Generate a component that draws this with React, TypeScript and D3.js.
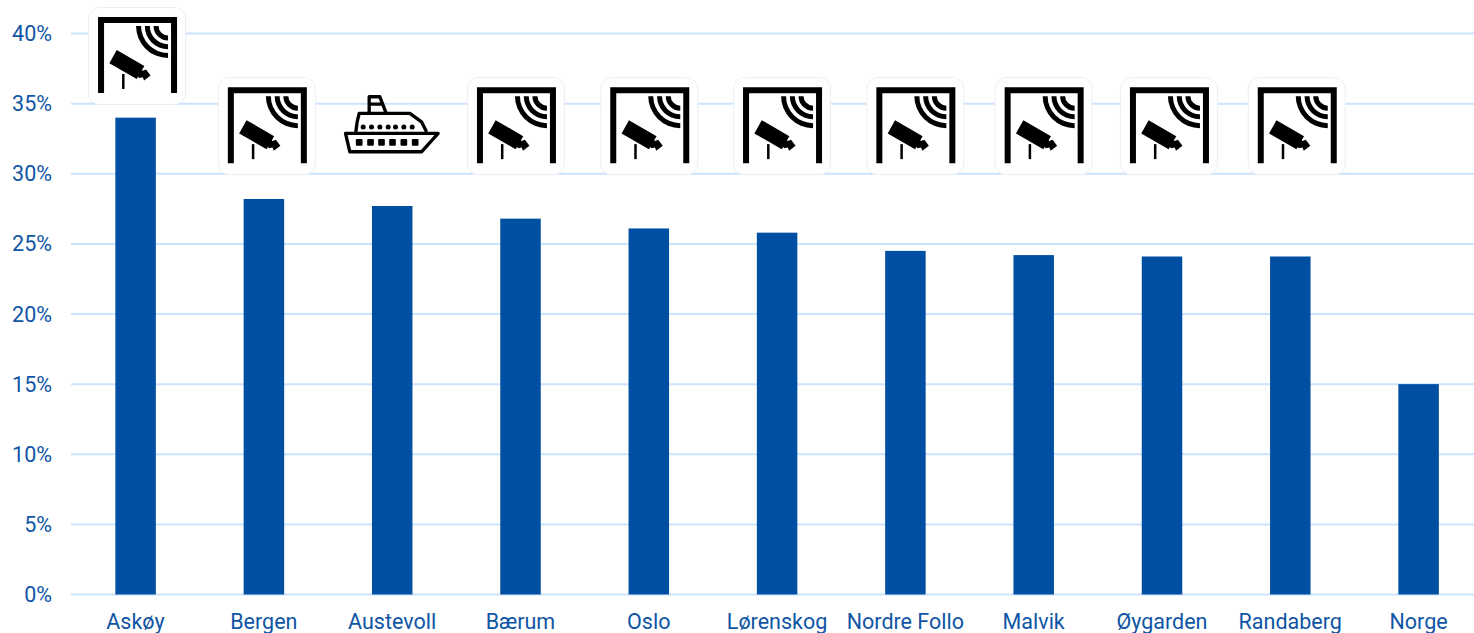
import React from "react";
import * as d3 from "d3";

const categories = ["Askøy","Bergen","Austevoll","Bærum","Oslo","Lørenskog","Nordre Follo","Malvik","Øygarden","Randaberg","Norge"];
const values = [34,28.2,27.7,26.8,26.1,25.8,24.5,24.2,24.1,24.1,15];
const icons = ["camera","camera","ship","camera","camera","camera","camera","camera","camera","camera",null];
const yTicks = [0,5,10,15,20,25,30,35,40];

const W = 1474, H = 633;
const TEXT = "#0f55a5", BAR = "#004fa3", GRID = "#cbe3fc";
const iconNudge = [1.5,3,0,-4.5,0.5,5,10,10,7,6.5];
const iconRaised = [true];

const x = d3.scaleBand<string>().domain(categories).range([71.4,1482.7]);
const y = d3.scaleLinear().domain([0,40]).range([594.5,33.5]);

function CameraIcon() {
  const arc = d3.arc();
  const radii = [12,20.7,29.5];
  return (
    <g>
      <rect x={0.5} y={0.5} width={97} height={97} rx={11} fill="#fff" stroke="#eceff2" strokeWidth={1}/>
      <path d="M13,86V13H86V86" fill="none" stroke="#000" strokeWidth={6}/>
      <g transform="translate(80,19)">
        {radii.map(r => (
          <path key={r} fill="#000" d={arc({innerRadius:r-2.5,outerRadius:r+2.5,startAngle:Math.PI,endAngle:1.5*Math.PI}) as string}/>
        ))}
      </g>
      <path d="M28.7,43L56.3,59L48.7,72L21.3,56.3Z" fill="#000"/>
      <path d="M52.5,64.5L58,62.5L62.5,68.5L56,73.5Z" fill="#000"/>
      <path d="M49,68L54,62.5L56,70L51,71Z" fill="#000"/>
      <rect x={34} y={67} width={2.5} height={15} fill="#000"/>
    </g>
  );
}

function ShipIcon() {
  const roundW = [100,125,150,175,197,222,247];
  const squareW = [88,122,155,188,222,256];
  return (
    <g transform="scale(0.3333)">
      <path d="M47,160H325L275,215H60Z M78,155L82,125L88,100H240L275,125L290,155 M118,100V50H150L168,97 M118,72H158" fill="none" stroke="#000" strokeWidth={10} strokeLinejoin="round"/>
      {roundW.map(c => <circle key={c} cx={c} cy={141} r={7.5} fill="#000"/>)}
      {squareW.map(c => <rect key={c} x={c-10} y={177} width={20} height={20} rx={3} fill="#000"/>)}
    </g>
  );
}

export default function App() {
  const font = "Roboto, sans-serif";
  return (
    <svg width={W} height={H} viewBox={`0 0 ${W} ${H}`} style={{position:"fixed",left:0,top:0,display:"block",background:"#fff"}}>
      {yTicks.map(t => (
        <g key={t}>
          <line x1={71} x2={W} y1={y(t)} y2={y(t)} stroke={GRID} strokeWidth={2}/>
          <text x={52} y={y(t)+7.5} textAnchor="end" fontFamily={font} fontSize={21.5} fill={TEXT}>{t}%</text>
        </g>
      ))}
      {categories.map((c,i) => {
        const cx = x(c)! + x.bandwidth()/2;
        return (
          <g key={c}>
            <rect x={cx-20.2} width={40.5} y={y(values[i])} height={y(0)-y(values[i])} fill={BAR}/>
            <text x={cx} y={629} textAnchor="middle" fontFamily={font} fontSize={21.5} fill={TEXT}>{c}</text>
          </g>
        );
      })}
      {categories.map((c,i) => {
        const kind = icons[i];
        if (!kind) return null;
        const cx = x(c)! + x.bandwidth()/2 + iconNudge[i];
        const top = iconRaised[i] ? y(40)-26.5 : y(35)-26.5;
        return (
          <g key={c} transform={`translate(${cx-49},${top})`}>
            {kind === "camera" ? <CameraIcon/> : <g transform="translate(-13.3,3)"><ShipIcon/></g>}
          </g>
        );
      })}
    </svg>
  );
}
